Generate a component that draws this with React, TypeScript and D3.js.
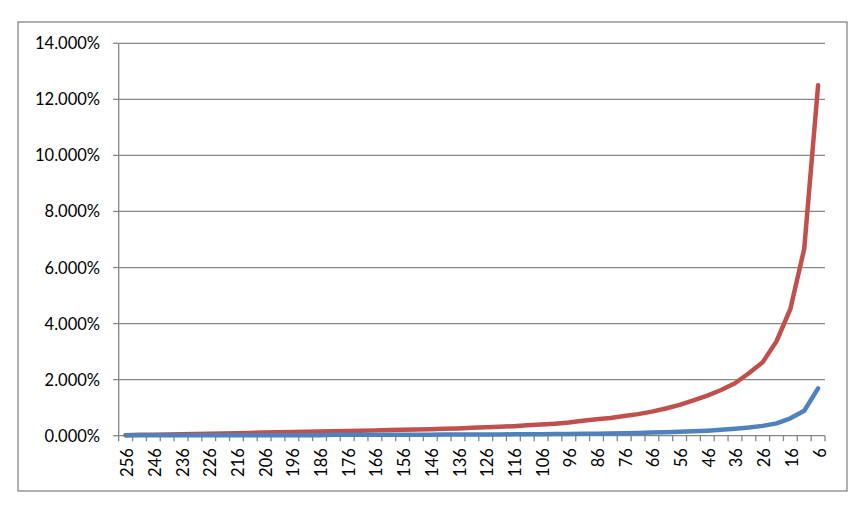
import * as d3 from 'd3';

// categories run 256 -> 6, step 5
const categories = [
  256, 251, 246, 241, 236, 231, 226, 221, 216, 211, 206, 201, 196, 191, 186, 181, 176,
  171, 166, 161, 156, 151, 146, 141, 136, 131, 126, 121, 116, 111, 106, 101, 96,
  91, 86, 81, 76, 71, 66, 61, 56, 51, 46, 41, 36, 31, 26, 21, 16, 11, 6,
];

// values in %
const redSeries = [
  0.02, 0.03, 0.03, 0.04, 0.05, 0.06, 0.07, 0.08, 0.09, 0.10, 0.11, 0.12, 0.13, 0.14, 0.15, 0.16, 0.17,
  0.18, 0.19, 0.20, 0.21, 0.22, 0.23, 0.25, 0.26, 0.28, 0.30, 0.32, 0.34, 0.37, 0.40, 0.43, 0.47,
  0.53, 0.59, 0.63, 0.70, 0.77, 0.86, 0.97, 1.10, 1.26, 1.43, 1.63, 1.87, 2.23, 2.62, 3.37, 4.52, 6.67, 12.50,
];

const blueSeries = [
  0.02, 0.02, 0.02, 0.02, 0.02, 0.02, 0.02, 0.02, 0.02, 0.02, 0.02, 0.02, 0.02, 0.02, 0.02, 0.03, 0.03,
  0.03, 0.03, 0.03, 0.03, 0.03, 0.03, 0.04, 0.04, 0.04, 0.04, 0.04, 0.05, 0.05, 0.05, 0.06, 0.06,
  0.07, 0.07, 0.08, 0.09, 0.10, 0.11, 0.12, 0.14, 0.16, 0.18, 0.21, 0.25, 0.29, 0.35, 0.44, 0.62, 0.89, 1.69,
];

const yTicks = [0, 2, 4, 6, 8, 10, 12, 14];

const GRID = '#868686';
const FONT = 'Lato, "Open Sans", sans-serif';

export default function App() {
  const left = 118.7, right = 825, top = 43.3, bottom = 435.7;

  const x = d3.scaleBand<number>().domain(categories).range([left, right]);
  const y = d3.scaleLinear().domain([0, 14]).range([bottom, top]);
  const cx = (c: number) => (x(c) ?? 0) + x.bandwidth() / 2;

  const line = d3.line<number>()
    .x((_, i) => cx(categories[i]))
    .y(d => y(d));

  // tick marks sit between categories
  const boundaries = d3.range(categories.length + 1).map(i => left + i * x.bandwidth());

  return (
    <svg width={866} height={512} style={{ position: 'absolute', left: 0, top: 0, background: '#fff' }}
      fontFamily={FONT}>
      <rect x={18} y={22} width={829} height={469} fill="#fff" stroke={GRID} strokeWidth={1.3} />

      {yTicks.map(t => (
        <g key={t}>
          {t > 0 && <line x1={left} x2={right} y1={y(t)} y2={y(t)} stroke={GRID} strokeWidth={1.3} />}
          <line x1={left - 5.5} x2={left} y1={y(t)} y2={y(t)} stroke={GRID} strokeWidth={1.3} />
          <text x={100} y={y(t)} textAnchor="end" dominantBaseline="central" fontSize={16.5} fill="#000">
            {t.toFixed(3) + '%'}
          </text>
        </g>
      ))}

      <line x1={left} x2={left} y1={top} y2={bottom} stroke={GRID} strokeWidth={1.3} />
      <line x1={left} x2={right} y1={bottom} y2={bottom} stroke={GRID} strokeWidth={1.3} />
      {boundaries.map((b, i) => (
        <line key={i} x1={b} x2={b} y1={bottom} y2={bottom + 5.5} stroke={GRID} strokeWidth={1.3} />
      ))}

      {categories.map((c, i) => i % 2 === 0 && (
        <text key={c} transform={`translate(${cx(c) + 1.5},${bottom + 12.5}) rotate(-90)`}
          textAnchor="end" dominantBaseline="central" fontSize={16.5} fill="#000">
          {c}
        </text>
      ))}

      <path d={line(redSeries) ?? ''} fill="none" stroke="#C0504D" strokeWidth={4.5}
        strokeLinejoin="round" strokeLinecap="round" />
      <path d={line(blueSeries) ?? ''} fill="none" stroke="#4F81BD" strokeWidth={4.5}
        strokeLinejoin="round" strokeLinecap="round" />
    </svg>
  );
}
